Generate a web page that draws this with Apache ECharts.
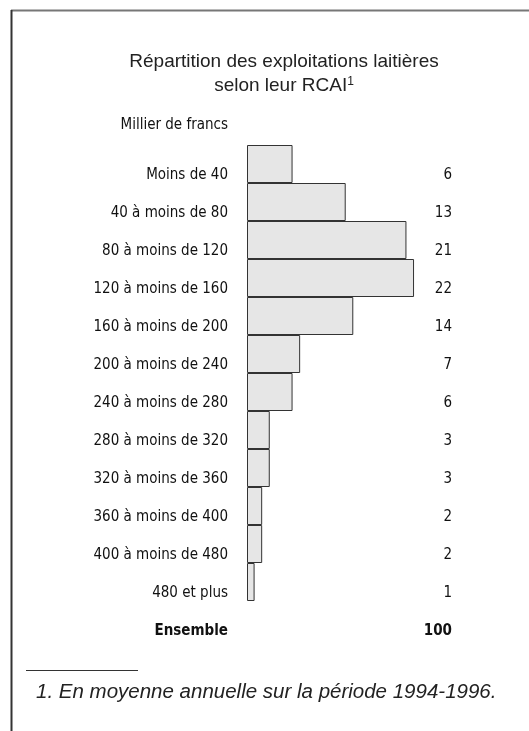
<!DOCTYPE html>
<html>
<head>
<meta charset="utf-8">
<script src="https://cdn.jsdelivr.net/npm/echarts@6/dist/echarts.min.js"></script>
<style>
  html, body { margin: 0; padding: 0; background: #fff; }
  #chart { width: 529px; height: 731px; }
</style>
</head>
<body>
<div id="chart"></div>
<script>
// tranches de RCAI (milliers de francs)
const categories = [
    'Moins de 40', '40 à moins de 80', '80 à moins de 120', '120 à moins de 160',
    '160 à moins de 200', '200 à moins de 240', '240 à moins de 280', '280 à moins de 320',
    '320 à moins de 360', '360 à moins de 400', '400 à moins de 480', '480 et plus', 'Ensemble'
]
// part des exploitations (%), pas de barre pour Ensemble
const shares = [6, 13, 21, 22, 14, 7, 6, 3, 3, 2, 2, 1, null]
const valueLabels = ['6', '13', '21', '22', '14', '7', '6', '3', '3', '2', '2', '1', '100']

const narrow = '"DejaVu Sans Condensed", sans-serif'
const sans = '"Liberation Sans", Arial, sans-serif'
const chart = echarts.init(document.getElementById('chart'))

chart.setOption({
    animation: false,
    title: {
        text: 'Répartition des exploitations laitières\nselon leur RCAI{sup|1}',
        left: 284,
        top: 50,
        padding: 0,
        textAlign: 'center',
        textStyle: {
            fontFamily: sans,
            fontSize: 19,
            fontWeight: 'normal',
            color: '#222',
            lineHeight: 24,
            rich: {
                sup: {fontSize: 12, color: '#222', padding: [0, 0, 8, 0], fontFamily: sans}
            }
        }
    },
    grid: {left: 247, top: 145, width: 205, height: 494},
    xAxis: {type: 'value', min: 0, max: 27, show: false},
    yAxis: [{
        type: 'category',
        data: categories,
        inverse: true,
        axisLine: {show: false},
        axisTick: {show: false},
        axisLabel: {
            margin: 19,
            padding: [22, 0, 0, 0],
            fontFamily: narrow,
            fontSize: 15,
            color: '#111',
            formatter: (v) => v === 'Ensemble' ? '{b|' + v + '}' : v,
            rich: {b: {fontFamily: narrow, fontSize: 15, fontWeight: 'bold', color: '#111'}}
        }
    }, {
        type: 'category',
        data: categories,
        inverse: true,
        position: 'right',
        axisLine: {show: false},
        axisTick: {show: false},
        axisLabel: {
            inside: true,
            margin: 0,
            padding: [22, 0, 0, 0],
            fontFamily: narrow,
            fontSize: 15,
            color: '#111',
            formatter: (v, i) => i === valueLabels.length - 1 ? '{b|' + valueLabels[i] + '}' : valueLabels[i],
            rich: {b: {fontFamily: narrow, fontSize: 15, fontWeight: 'bold', color: '#111'}}
        }
    }],
    series: [{
        type: 'bar',
        data: shares,
        barCategoryGap: 0,
        itemStyle: {color: '#e6e6e6', borderColor: '#333', borderWidth: 1}
    }],
    graphic: [
        // cadre
        {type: 'line', shape: {x1: 11, y1: 10.5, x2: 529, y2: 10.5}, style: {stroke: '#777', lineWidth: 2}},
        {type: 'line', shape: {x1: 11.5, y1: 10, x2: 11.5, y2: 731}, style: {stroke: '#333', lineWidth: 2}},
        // unité
        {type: 'text', x: 228, y: 125, style: {text: 'Millier de francs', fontFamily: narrow, fontSize: 15, fill: '#111', align: 'right', verticalAlign: 'middle'}},
        // note
        {type: 'line', shape: {x1: 26, y1: 670.5, x2: 138, y2: 670.5}, style: {stroke: '#333', lineWidth: 1}},
        {type: 'text', x: 36, y: 692, style: {text: '1. En moyenne annuelle sur la période 1994-1996.', fontFamily: sans, fontStyle: 'italic', fontSize: 20.5, fill: '#222', verticalAlign: 'middle'}}
    ]
})
</script>
</body>
</html>
